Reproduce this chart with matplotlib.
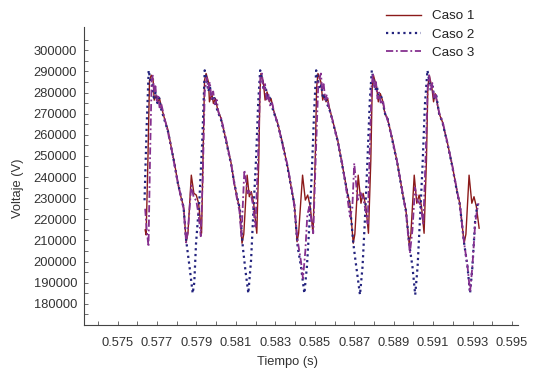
import matplotlib
matplotlib.use('Agg')
import matplotlib.pyplot as plt
from matplotlib.ticker import MultipleLocator, FormatStrFormatter

plt.rcParams['font.family'] = ['Liberation Sans', 'DejaVu Sans']

# Caso 1 (solid)
t1 = [0.57640, 0.57645, 0.57654, 0.57662, 0.57671, 0.57680, 0.57686, 0.57696, 0.57705, 0.57713,
      0.57722, 0.57738, 0.57756, 0.57772, 0.57789, 0.57806, 0.57823, 0.57835, 0.57848, 0.57857,
      0.57874, 0.57887, 0.57899, 0.57911, 0.57926, 0.57933, 0.57941,
      0.57949, 0.57961, 0.57966, 0.57978, 0.57986, 0.57996, 0.58008, 0.58025, 0.58050, 0.58076,
      0.58092, 0.58109, 0.58118, 0.58131, 0.58140, 0.58157, 0.58168, 0.58178, 0.58190, 0.58206,
      0.58216, 0.58222,
      0.58227, 0.58239, 0.58248, 0.58258, 0.58270, 0.58278, 0.58291, 0.58312, 0.58337, 0.58362,
      0.58383, 0.58396, 0.58410, 0.58418, 0.58438, 0.58452, 0.58464, 0.58477, 0.58491, 0.58502,
      0.58509,
      0.58516, 0.58531, 0.58540, 0.58548, 0.58557, 0.58565, 0.58573, 0.58590, 0.58616, 0.58641,
      0.58666, 0.58678, 0.58695, 0.58703, 0.58720, 0.58734, 0.58745, 0.58759, 0.58772, 0.58784,
      0.58791,
      0.58797, 0.58813, 0.58822, 0.58832, 0.58843, 0.58855, 0.58869, 0.58894, 0.58919, 0.58945,
      0.58962, 0.58978, 0.58987, 0.59004, 0.59017, 0.59029, 0.59041, 0.59054, 0.59066, 0.59073,
      0.59080, 0.59093, 0.59102, 0.59110, 0.59118, 0.59130, 0.59147, 0.59173, 0.59198, 0.59223,
      0.59235, 0.59257, 0.59266, 0.59282, 0.59296, 0.59307, 0.59319, 0.59333]
v1 = [215000, 212600, 248000, 285800, 288200, 286600, 276400, 278700, 275600, 277200,
      273200, 267700, 262200, 254300, 246500, 237000, 230000, 226000, 209400, 213400,
      240900, 232300, 231500, 227600, 213400, 248000, 285800,
      289000, 285000, 275600, 279500, 274800, 277200, 271700, 267700, 257500, 246500,
      237000, 229100, 226000, 208700, 213000, 240900, 230700, 233100, 227600, 213400,
      248000, 280000,
      289000, 285000, 276400, 280300, 275600, 277200, 271700, 265400, 255900, 244900,
      233900, 227600, 209400, 213400, 240900, 229100, 231500, 226000, 213400, 248000,
      282000,
      289000, 285000, 276400, 279000, 275600, 277200, 273200, 266900, 257500, 244900,
      232300, 227600, 208700, 213000, 240900, 227600, 232300, 226000, 213400, 248000,
      282000,
      288200, 282700, 275600, 279500, 276400, 270100, 267700, 257500, 246500, 232300,
      224400, 208700, 213000, 240900, 227600, 231500, 226000, 213400, 248000, 282000,
      288200, 282700, 275600, 279500, 276400, 270100, 266100, 255900, 244900, 232300,
      227600, 208700, 213000, 240900, 227600, 230700, 226000, 215800]

# Caso 2 (dotted)
t2 = [0.57637, 0.57647, 0.57658, 0.57666, 0.57675, 0.57684, 0.57693, 0.57702, 0.57711, 0.57720,
      0.57738, 0.57756, 0.57772, 0.57789, 0.57806, 0.57823, 0.57835, 0.57848, 0.57865, 0.57881,
      0.57889, 0.57898, 0.57915, 0.57929, 0.57942,
      0.57952, 0.57960, 0.57968, 0.57978, 0.57988, 0.57998, 0.58008, 0.58025, 0.58050, 0.58076,
      0.58092, 0.58109, 0.58120, 0.58135, 0.58148, 0.58163, 0.58177, 0.58189, 0.58202, 0.58213,
      0.58223,
      0.58233, 0.58241, 0.58250, 0.58260, 0.58270, 0.58280, 0.58291, 0.58312, 0.58337, 0.58362,
      0.58383, 0.58396, 0.58413, 0.58430, 0.58447, 0.58460, 0.58472, 0.58486, 0.58497, 0.58507,
      0.58516, 0.58525, 0.58533, 0.58542, 0.58552, 0.58562, 0.58573, 0.58590, 0.58616, 0.58641,
      0.58666, 0.58678, 0.58695, 0.58708, 0.58729, 0.58742, 0.58754, 0.58767, 0.58779, 0.58789,
      0.58798, 0.58806, 0.58815, 0.58824, 0.58834, 0.58845, 0.58856, 0.58869, 0.58894, 0.58919,
      0.58945, 0.58962, 0.58978, 0.58995, 0.59009, 0.59021, 0.59033, 0.59046, 0.59058, 0.59071,
      0.59080, 0.59088, 0.59097, 0.59106, 0.59116, 0.59130, 0.59147, 0.59173, 0.59198, 0.59223,
      0.59235, 0.59257, 0.59274, 0.59287, 0.59299, 0.59313, 0.59324, 0.59333]
v2 = [229000, 262000, 290500, 286000, 283500, 277500, 280000, 275000, 277500, 272500,
      267000, 261500, 254000, 246000, 237000, 230500, 225500, 210000, 197600, 185000,
      190000, 208700, 229100, 255900, 290500,
      286000, 280500, 283000, 277000, 278500, 274000, 271000, 267000, 257000, 246000,
      237000, 229500, 225000, 207000, 196100, 185000, 200800, 224400, 248000, 275000,
      290500,
      286500, 281000, 283000, 277500, 278000, 274000, 271000, 265000, 255500, 244500,
      233500, 227000, 207100, 197600, 185000, 197600, 216500, 244900, 271700, 290500,
      286000, 281500, 283500, 277000, 278500, 274500, 272500, 266500, 257000, 244500,
      232000, 227000, 208700, 199200, 184300, 197600, 219700, 248000, 276400, 290500,
      286000, 281000, 283000, 277000, 279000, 275000, 270000, 267500, 257000, 246000,
      232000, 224000, 208700, 197600, 184300, 197600, 219700, 244900, 274000, 290500,
      285500, 281000, 283000, 277000, 278500, 270000, 266000, 255500, 244500, 232000,
      227000, 208700, 197600, 185000, 197600, 219700, 226800, 228400]

# Caso 3 (dash-dot)
t3 = [0.57640, 0.57648, 0.57657, 0.57665, 0.57673, 0.57679, 0.57686, 0.57692, 0.57699, 0.57706,
      0.57714, 0.57722, 0.57738, 0.57756, 0.57772, 0.57789, 0.57806, 0.57823, 0.57835, 0.57848,
      0.57857, 0.57874, 0.57887, 0.57899, 0.57911, 0.57922, 0.57932, 0.57942, 0.57952,
      0.57960, 0.57968, 0.57976, 0.57985, 0.57993, 0.58003, 0.58012, 0.58025, 0.58050, 0.58076,
      0.58092, 0.58109, 0.58118, 0.58128, 0.58143, 0.58160, 0.58172, 0.58185, 0.58199, 0.58212,
      0.58224,
      0.58232, 0.58240, 0.58248, 0.58256, 0.58265, 0.58274, 0.58284, 0.58295, 0.58312, 0.58337,
      0.58362, 0.58383, 0.58396, 0.58413, 0.58430, 0.58440, 0.58452, 0.58462, 0.58472, 0.58482,
      0.58492, 0.58505, 0.58518, 0.58531,
      0.58538, 0.58545, 0.58553, 0.58561, 0.58570, 0.58580, 0.58590, 0.58616, 0.58641, 0.58660,
      0.58678, 0.58690, 0.58700, 0.58717, 0.58730, 0.58745, 0.58758, 0.58768, 0.58778, 0.58788,
      0.58795,
      0.58802, 0.58810, 0.58818, 0.58826, 0.58835, 0.58845, 0.58856, 0.58869, 0.58894, 0.58919,
      0.58945, 0.58962, 0.58982, 0.58995, 0.59008, 0.59020, 0.59035, 0.59050, 0.59062, 0.59073,
      0.59080,
      0.59088, 0.59096, 0.59104, 0.59112, 0.59121, 0.59132, 0.59147, 0.59173, 0.59198, 0.59223,
      0.59235, 0.59257, 0.59274, 0.59287, 0.59299, 0.59313, 0.59322, 0.59330]
v3 = [225000, 215000, 207100, 250000, 286000, 288000, 280000, 283000, 276000, 279000,
      272000, 274500, 268000, 261000, 254000, 245500, 237500, 229500, 225000, 209000,
      215000, 236000, 230000, 229000, 222000, 212000, 240000, 280000, 287000,
      282000, 285000, 277000, 280500, 274500, 276500, 270500, 268000, 258000, 246000,
      236500, 228000, 224000, 212000, 243300, 232300, 233900, 227600, 216500, 248000,
      287400,
      289000, 281000, 284000, 276000, 279000, 273500, 275000, 270000, 265500, 255000,
      245500, 234000, 226500, 210000, 200000, 192000, 205000, 222000, 226000, 220000,
      213400, 250000, 285000, 289000,
      281000, 284000, 276500, 279000, 273500, 270000, 267000, 257000, 245500, 234000,
      221300, 225000, 246500, 229100, 233000, 230000, 224000, 218000, 250000, 283000,
      289000,
      282000, 285000, 277000, 280000, 274500, 276500, 270500, 267000, 257500, 246500,
      232500, 223500, 204000, 215000, 235000, 229000, 227000, 218000, 250000, 285000,
      288000,
      281500, 284500, 277000, 279500, 274500, 270000, 266500, 256000, 245000, 232500,
      227000, 208700, 198000, 185500, 198000, 218000, 224000, 227600]

fig = plt.figure(figsize=(5.36, 3.73), dpi=100)
ax = fig.add_axes([0.1567, 0.1287, 0.8097, 0.7989])

ax.plot(t1, v1, color='#8b1a1a', lw=1.0, label='Caso 1')
ax.plot(t2, v2, color='#23237e', lw=1.6, linestyle=(0, (1, 1.6)), label='Caso 2')
ax.plot(t3, v3, color='#86308f', lw=1.3, linestyle=(0, (4, 1.5, 1, 1.5)), label='Caso 3')

ax.set_xlim(0.5733, 0.5953)
ax.set_ylim(170000, 311000)
ax.xaxis.set_major_locator(MultipleLocator(0.002, offset=0.001))
ax.xaxis.set_minor_locator(MultipleLocator(0.001))
ax.xaxis.set_major_formatter(FormatStrFormatter('%.3f'))
ax.set_yticks(list(range(180000, 300001, 10000)))
ax.set_yticks(list(range(175000, 310001, 10000)), minor=True)
ax.yaxis.set_major_formatter(FormatStrFormatter('%d'))

for s in ['top', 'right']:
    ax.spines[s].set_visible(False)
for s in ['left', 'bottom']:
    ax.spines[s].set_color('#444444')
    ax.spines[s].set_linewidth(0.8)
ax.tick_params(which='both', direction='in', length=3, width=0.6, color='#555555',
               labelsize=9.3, labelcolor='#333333')
ax.tick_params(axis='x', pad=9)
ax.tick_params(axis='y', pad=5)

ax.set_xlabel('Tiempo (s)', fontsize=9.3, color='#333333')
ax.set_ylabel('Voltaje (V)', fontsize=9.3, color='#333333')
ax.xaxis.set_label_coords(0.47, -0.105)
ax.yaxis.set_label_coords(-0.138, 0.46)

fig.legend(loc='upper left', bbox_to_anchor=(386 / 536, 1 - 10 / 373), frameon=False,
           fontsize=9.6, borderaxespad=0, borderpad=0, handlelength=2.6,
           handletextpad=0.85, labelspacing=0.45, labelcolor='#222222')

fig.savefig('out.png', dpi=100)
